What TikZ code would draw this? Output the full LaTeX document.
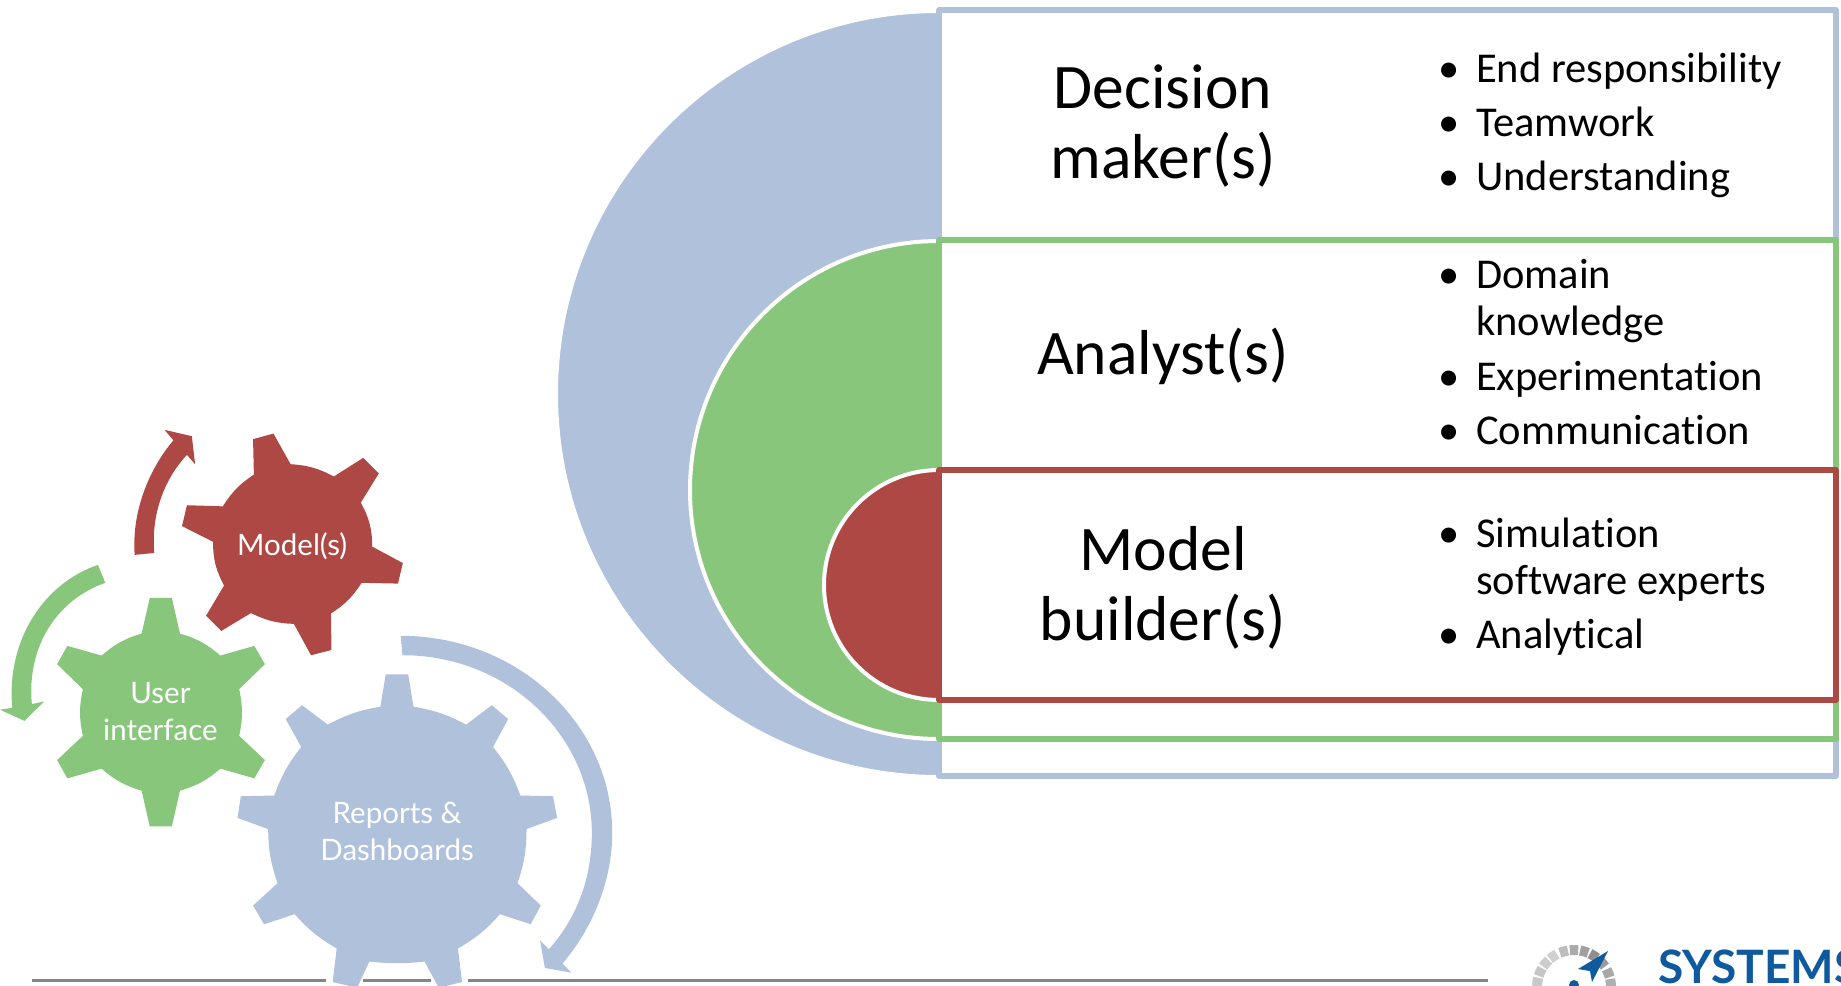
\documentclass[tikz,border=0pt]{standalone}
\usepackage{fontspec}
\setmainfont[Ligatures={NoCommon}]{Carlito}
\newfontfamily\gearfont{Lato}
\newfontfamily\logofont{Lato Bold}
\definecolor{cblue}{HTML}{B0C1DC}
\definecolor{cgreen}{HTML}{88C67C}
\definecolor{cred}{HTML}{AE4845}
\definecolor{cgray}{HTML}{858585}
\definecolor{clogo}{HTML}{0F5A9E}
\tikzset{
  x=1pt,y=-1pt,
  big/.style={font=\fontsize{63.5}{63.5}\selectfont,anchor=base,inner sep=0pt},
  item/.style={font=\fontsize{42.5}{42.5}\selectfont,anchor=base west,inner sep=0pt},
  dot/.style={font=\fontsize{42.5}{42.5}\selectfont,anchor=base,inner sep=0pt},
  geartext/.style={font=\gearfont\fontsize{29.5}{37}\selectfont,text=white,align=center,inner sep=0pt},
  frame/.style={line width=5.5pt,fill=white,line join=round},
  semi/.style={draw=white,line width=4pt},
  crop/.style={shift={(0,400)},x=0.40816pt,y=-0.37313pt},
}
\newcommand{\semicirc}[4]{\fill[#4,semi] (#1,#2+#3) arc[start angle=90,end angle=270,radius=#3] -- cycle;}
\begin{document}
\begin{tikzpicture}
\useasboundingbox (0,0) rectangle (1841,985);
\clip (0,0) rectangle (1841,985);
\fill[white] (0,0) rectangle (1841,985);
% footer rule
\draw[cgray,line width=3pt] (32,980) -- (326,980) (363,980) -- (431,980) (468,980) -- (1488,980);
% left: gears
\begin{scope}[crop]
\fill[cred] (620,105) -- (670,90) -- (712,172) to[bend left=12] (818,205) -- (890,155) -- (928,197) -- (884,275) to[bend left=14] (912,393) -- (987,437) -- (975,492) -- (886,490) to[bend left=12] (811,572) -- (812,670) -- (762,684) -- (720,600) to[bend left=12] (615,571) -- (542,619) -- (505,578) -- (549,497) to[bend left=14] (522,380) -- (446,338) -- (458,282) -- (546,285) to[bend left=12] (622,200) -- cycle;
\fill[cgreen] (367,530) -- (421,530) -- (441,626) to[bend left=12] (540,685) -- (623,659) -- (649,708) -- (586,775) to[bend left=12] (586,900) -- (649,965) -- (623,1014) -- (540,988) to[bend left=12] (441,1047) -- (421,1143) -- (367,1143) -- (347,1047) to[bend left=12] (249,988) -- (165,1014) -- (140,965) -- (203,900) to[bend left=12] (203,775) -- (140,708) -- (165,659) -- (249,685) to[bend left=12] (347,626) -- cycle;
\fill[cblue] (945,735) -- (1000,735) -- (1013,822) to[bend left=9] (1142,870) -- (1205,818) -- (1245,855) -- (1208,930) to[bend left=9] (1275,1060) -- (1355,1062) -- (1365,1120) -- (1290,1150) to[bend left=9] (1268,1295) -- (1325,1355) -- (1300,1405) -- (1225,1378) to[bend left=9] (1122,1470) -- (1132,1560) -- (1075,1575) -- (1040,1505) to[bend left=6] (905,1505) -- (875,1575) -- (815,1560) -- (825,1470) to[bend left=9] (722,1378) -- (647,1405) -- (620,1355) -- (680,1295) to[bend left=9] (657,1150) -- (582,1120) -- (590,1062) -- (672,1060) to[bend left=9] (738,930) -- (700,855) -- (740,818) -- (803,870) to[bend left=9] (932,822) -- cycle;
% arrows
\fill[cred] (330,415) .. controls (322,300) and (365,185) .. (425,108) -- (403,80) -- (470,97) -- (478,172) -- (458,147) .. controls (400,215) and (370,310) .. (378,410) -- cycle;
\fill[cgreen] (240,442) .. controls (110,490) and (15,640) .. (30,825) -- (0,830) -- (60,860) -- (108,808) -- (78,815) .. controls (65,660) and (140,535) .. (258,490) -- cycle;
\fill[cblue] (982,632) .. controls (1270,632) and (1500,870) .. (1500,1160) .. controls (1500,1290) and (1450,1420) .. (1378,1510) -- (1400,1535) -- (1335,1522) -- (1323,1448) -- (1345,1472) .. controls (1415,1385) and (1450,1280) .. (1450,1160) .. controls (1450,900) and (1245,684) .. (986,684) -- cycle;
\node[geartext] (tmodel) at (716,393) {Model(s)};
\node[geartext] (tuser) at (393,836) {User\\interface};
\node[geartext] (treports) at (973,1156) {Reports \&\\Dashboards};
\end{scope}
% right: nested panels
\semicirc{939}{394}{383}{cblue}
\draw[frame,draw=cblue] (939,10) rectangle (1836,776);
\semicirc{939}{490}{249}{cgreen}
\draw[frame,draw=cgreen] (939,240) rectangle (1836,739);
\semicirc{939}{585}{115}{cred}
\draw[frame,draw=cred] (939,470) rectangle (1836,700);
% headings
\node[big] (d1) at (1163,108) {Decision};
\node[big] (d2) at (1163,178) {maker(s)};
\node[big] (a1) at (1163,374) {Analyst(s)};
\node[big] (m1) at (1163,570) {Model};
\node[big] (m2) at (1163,640) {builder(s)};
% bullets
\foreach \n/\yy/\t in {i1/82/End responsibility,i2/136/Teamwork,i3/190/Understanding,i4/288/Domain,i6/390/Experimentation,i7/444/Communication,i8/547/Simulation,i10/648/Analytical}{
  \node[dot] (b\n) at (1449,\yy) {•};
  \node[item] (\n) at (1476,\yy) {\t};
}
\node[item] (i5) at (1476,335) {knowledge};
\node[item] (i9) at (1476,594) {software experts};
% logo
\foreach \a/\c in {172/C9C9C9,156/C6C6C6,140/CCCCCC,124/D0D0D0,106/BDBDBD,90/ABABAB,74/A0A0A0,58/8F8F8F,40/9A9A9A,22/A8A8A8,6/B0B0B0}{
  \definecolor{tmpc}{HTML}{\c}
  \draw[tmpc,line width=10pt] ({1574+37*cos(\a+6.5)},{987-37*sin(\a+6.5)}) arc[start angle={-(\a+6.5)},end angle={-(\a-6.5)},radius=37];
}
\fill[clogo] (1608,951) -- (1578,969) -- (1590,971) -- (1592,982) -- cycle;
\fill[clogo] (1574,985) circle (5);
\node[font=\logofont\fontsize{46}{46}\selectfont,text=clogo,anchor=base west,inner sep=0pt] (logo) at (1658,983) {SYSTEMS};
\end{tikzpicture}
\end{document}
